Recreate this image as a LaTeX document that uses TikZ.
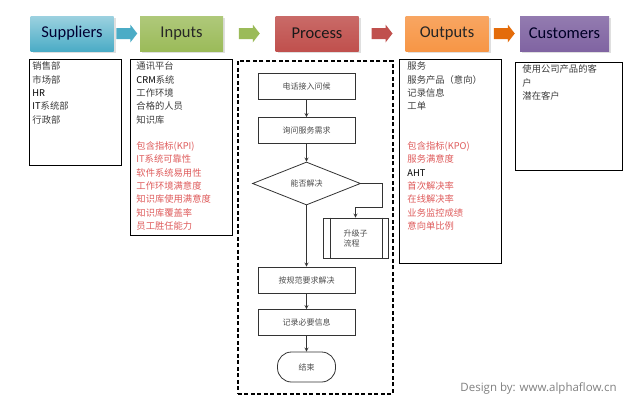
\documentclass[tikz,border=0pt]{standalone}
\usepackage{fontspec}
\setmainfont{Noto Sans CJK SC}
\newfontfamily\hdrfont{Carlito}
\newfontfamily\wmfont{Open Sans}
\usepackage{tikz}
\usetikzlibrary{positioning, calc, shapes, shadows}

\definecolor{supblue}{HTML}{4BACC6}
\definecolor{inpgreen}{HTML}{9BBB59}
\definecolor{procred}{HTML}{C0504D}
\definecolor{outorange}{HTML}{F79646}
\definecolor{custpurple}{HTML}{8064A2}
\definecolor{arrorange}{HTML}{E46C0A}
\definecolor{txtgray}{HTML}{3C3C3C}
\definecolor{kpired}{HTML}{DE5B5B}

% block arrow between two headers
\newcommand{\hdrarrow}[3]{%
  \path ($(#1.east)!0.5!(#2.west)$) coordinate (mid-#1);
  \fill[#3] ($(mid-#1)+(-10.5,-5.5)$) -- ++(14,0) -- ++(0,-3.5) -- ++(7,9)
    -- ++(-7,9) -- ++(0,-3.5) -- ++(-14,0) -- cycle;
}

\begin{document}
\begin{tikzpicture}[x=1pt,y=1pt]
	\tikzstyle{every path}=[line width=0.9pt]
	\tikzstyle{header}=[minimum width=83pt,minimum height=35pt,inner sep=0pt,
	  font=\hdrfont\fontsize{16.5}{18}\selectfont,
	  drop shadow={shadow xshift=2pt,shadow yshift=-2pt,opacity=0.25}]
	\tikzstyle{listbox}=[draw=black,line width=1.4pt,anchor=north west,inner sep=0pt]
	\tikzstyle{listtext}=[anchor=north west,inner sep=0pt,align=left,text=txtgray,
	  font=\fontsize{9.3}{13.3}\selectfont]
	\tikzstyle{step box}=[draw=black!80,line width=0.8pt,minimum width=97pt,minimum height=26pt,
	  inner sep=0pt,text=black!70,font=\fontsize{8}{10}\selectfont]
	\tikzstyle{flow}=[->,>=stealth,line width=0.8pt,black!80]
	
	\useasboundingbox (0,0) rectangle (640,-410);
	
	%% Cabecalhos
	\node [header,top color=supblue!55,bottom color=supblue,text=blue!20!black] (sup) at (72,-33.5) {Suppliers};
	\node [header,top color=inpgreen!80,bottom color=inpgreen,text=black!85] (inp) at (181.5,-33.5) {Inputs};
	\node [header,top color=procred!85,bottom color=procred,text=black!90] (proc) at (317,-33.5) {Process};
	\node [header,top color=outorange!85,bottom color=outorange,text=black!85] (outp) at (447,-33.5) {Outputs};
	\node [header,minimum width=89pt,top color=custpurple!85,bottom color=custpurple,text=blue!15!black] (cust) at (564.5,-33.5) {Customers};
	
	\hdrarrow{sup}{inp}{supblue}
	\hdrarrow{inp}{proc}{inpgreen}
	\hdrarrow{proc}{outp}{procred}
	\hdrarrow{outp}{cust}{arrorange}
	
	%% Caixas
	\node [listbox,minimum width=92pt,minimum height=106pt] (supbox) at (29,-59) {};
	\node [listbox,minimum width=102pt,minimum height=176pt] (inpbox) at (130,-59) {};
	\node [listbox,minimum width=102pt,minimum height=204pt] (outbox) at (399,-59) {};
	\node [listbox,minimum width=107pt,minimum height=108pt] (custbox) at (515,-62) {};
	\node [draw=black,line width=1.5pt,dash pattern=on 4pt off 2.5pt,anchor=north west,
	  inner sep=0pt,minimum width=155pt,minimum height=333pt] (procbox) at (237,-60) {};
	
	\node [listtext] (suptext) at ($(supbox.north west)+(3,-2.5)$)
	  {销售部\\市场部\\\textcolor{black}{HR}\\\textcolor{black}{IT}系统部\\行政部};
	\node [listtext] (inptext) at ($(inpbox.north west)+(6,-2.5)$)
	  {通讯平台\\\textcolor{black}{CRM}系统\\工作环境\\合格的人员\\知识库\\[13.3pt]
	  \textcolor{kpired}{包含指标(KPI)}\\\textcolor{kpired}{IT系统可靠性}\\
	  \textcolor{kpired}{软件系统易用性}\\\textcolor{kpired}{工作环境满意度}\\
	  \textcolor{kpired}{知识库使用满意度}\\\textcolor{kpired}{知识库覆盖率}\\
	  \textcolor{kpired}{员工胜任能力}};
	\node [listtext] (outtext) at ($(outbox.north west)+(8,-2.5)$)
	  {服务\\服务产品（意向）\\记录信息\\工单\\[26.6pt]
	  \textcolor{kpired}{包含指标(KPO)}\\\textcolor{kpired}{服务满意度}\\
	  \textcolor{black}{AHT}\\\textcolor{kpired}{首次解决率}\\
	  \textcolor{kpired}{在线解决率}\\\textcolor{kpired}{业务监控成绩}\\
	  \textcolor{kpired}{意向单比例}};
	\node [listtext] (custtext) at ($(custbox.north west)+(7,-2.5)$)
	  {使用公司产品的客\\户\\潜在客户};
	
	%% Fluxo do processo
	\node [step box] (greet) at (306.5,-86.5) {电话接入问候};
	\node [step box] (ask) at (306.5,-130.5) {询问服务需求};
	\node [step box,diamond,aspect=2.5,minimum width=108pt,minimum height=43pt] (solve) at (306.5,-183.5) {能否解决};
	\node [step box,minimum width=65pt,minimum height=40pt,align=left] (escal) at (355.5,-238) {升级子\\流程};
	\draw [line width=0.8pt,black!80] ($(escal.north west)+(8,0)$) -- ($(escal.south west)+(8,0)$);
	\draw [line width=0.8pt,black!80] ($(escal.north east)+(-6,0)$) -- ($(escal.south east)+(-6,0)$);
	\node [step box] (norm) at (306.5,-280) {按规范要求解决};
	\node [step box] (rec) at (306.5,-322.5) {记录必要信息};
	\node [step box,minimum width=58pt,minimum height=30pt,rounded corners=14pt] (fim) at (306.5,-367) {结束};
	
	\coordinate (turn) at (382,-207);
	\draw [flow] (greet) -- (ask);
	\draw [flow] (ask) -- (solve);
	\draw [flow] (solve) -- (norm);
	\draw [flow] (norm) -- (rec);
	\draw [flow] (rec) -- (fim);
	\draw [flow] (solve.east) -| (turn) -| (escal.north);
	
	\node [anchor=base east,inner sep=0pt,text=black!50,font=\wmfont\fontsize{11.5}{13}\selectfont] (credit) at (617,-391) {Design by: www.alphaflow.cn};
\end{tikzpicture}
\end{document}
